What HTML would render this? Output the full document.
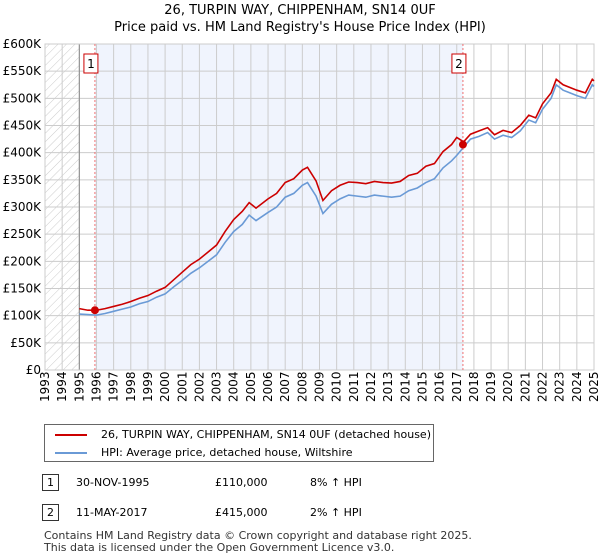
<!DOCTYPE html>
<html><head><meta charset="utf-8"><style>
body{margin:0;background:#fff;font-family:"DejaVu Sans","Liberation Sans",sans-serif;}
#wrap{position:relative;width:600px;height:560px;overflow:hidden}
.t{position:absolute;font-size:12px;color:#000}
</style></head><body><div id="wrap">
<div class="t" style="left:0;width:600px;text-align:center;top:2px;font-size:13px;line-height:17px">26, TURPIN WAY, CHIPPENHAM, SN14 0UF<br>Price paid vs. HM Land Registry's House Price Index (HPI)</div>
<svg id="chart" width="600" height="420" style="position:absolute;left:0;top:0"></svg>
<div style="position:absolute;left:44px;top:424px;width:390px;height:38px;border:1px solid #666;box-sizing:border-box;font-size:11px">
<div style="position:absolute;left:10px;top:9px;width:32px;height:2px;background:#cc0000"></div><div style="position:absolute;left:56px;top:3px">26, TURPIN WAY, CHIPPENHAM, SN14 0UF (detached house)</div>
<div style="position:absolute;left:10px;top:27px;width:32px;height:2px;background:#6a9ad6"></div><div style="position:absolute;left:56px;top:21px">HPI: Average price, detached house, Wiltshire</div>
</div>
<div style="position:absolute;top:474px;left:0;width:600px;font-size:11px">
<div style="position:absolute;left:42px;top:0;width:17px;height:17px;border:1px solid #333;box-sizing:border-box;text-align:center;line-height:16px">1</div>
<div style="position:absolute;left:76px;top:2px">30-NOV-1995</div><div style="position:absolute;left:215px;top:2px">£110,000</div><div style="position:absolute;left:310px;top:2px">8% ↑ HPI</div></div>
<div style="position:absolute;top:504px;left:0;width:600px;font-size:11px">
<div style="position:absolute;left:42px;top:0;width:17px;height:17px;border:1px solid #333;box-sizing:border-box;text-align:center;line-height:16px">2</div>
<div style="position:absolute;left:76px;top:2px">11-MAY-2017</div><div style="position:absolute;left:215px;top:2px">£415,000</div><div style="position:absolute;left:310px;top:2px">2% ↑ HPI</div></div>
<div class="t" style="left:44px;top:530px;font-size:11px;line-height:12px;color:#333">Contains HM Land Registry data © Crown copyright and database right 2025.<br>This data is licensed under the Open Government Licence v3.0.</div>
</div>
<script>
const hpiT=[1995,1995.5,1996,1996.5,1997,1997.5,1998,1998.5,1999,1999.5,2000,2000.5,2001,2001.5,2002,2002.5,2003,2003.5,2004,2004.5,2004.9,2005.3,2006,2006.5,2007,2007.5,2008,2008.3,2008.8,2009.2,2009.7,2010.2,2010.7,2011.2,2011.7,2012.2,2012.7,2013.2,2013.7,2014.2,2014.7,2015.2,2015.7,2016.2,2016.7,2017,2017.4,2017.8,2018.3,2018.8,2019.2,2019.7,2020.2,2020.7,2021.2,2021.6,2022,2022.5,2022.8,2023.2,2023.6,2024,2024.5,2024.9,2025];
const hpiV=[103,102,101,104,108,112,116,122,126,134,140,153,165,178,188,200,212,235,255,268,285,275,290,300,318,325,340,345,320,288,305,315,322,320,318,322,320,318,320,330,335,345,352,372,385,395,410,425,430,437,425,432,428,440,460,455,480,500,525,515,510,505,500,525,522];
const redV=[113,110,110,113,117,121,126,132,137,145,152,166,180,194,204,217,230,255,277,292,308,298,315,325,345,352,368,373,348,312,330,340,346,345,343,347,345,344,347,358,362,375,380,402,415,428,420,434,440,446,433,441,437,450,469,464,490,510,535,525,520,515,510,535,532];
const yTicks=[0,50,100,150,200,250,300,350,400,450,500,550,600];
const yLabels=["£0","£50K","£100K","£150K","£200K","£250K","£300K","£350K","£400K","£450K","£500K","£550K","£600K"];
const years=[];for(let y=1993;y<=2025;y++)years.push(y);
const sales=[{t:1995.91,v:110,n:"1"},{t:2017.36,v:415,n:"2"}];
const X0=45,X1=594,Y0=370,Y1=44;
const FF='DejaVu Sans, Liberation Sans, sans-serif';
const x=t=>X0+(t-1993)*(X1-X0)/32, y=v=>Y0-v*(Y0-Y1)/600;
const svg=document.getElementById('chart');const NS="http://www.w3.org/2000/svg";
function el(tag,a,p){const e=document.createElementNS(NS,tag);for(const k in a)e.setAttribute(k,a[k]);(p||svg).appendChild(e);return e;}
const defs=el('defs',{});const pat=el('pattern',{id:'h',width:6,height:6,patternUnits:'userSpaceOnUse',patternTransform:'rotate(45)'},defs);el('line',{x1:0,y1:0,x2:0,y2:6,stroke:'#ccc','stroke-width':1},pat);
let r=el('rect',{x:X0,y:Y1,width:x(1995)-X0,height:Y0-Y1,fill:'url(#h)'});
r=el('rect',{x:x(sales[0].t),y:Y1,width:x(sales[1].t)-x(sales[0].t),height:Y0-Y1,fill:'#f0f4fd'});
years.forEach(yr=>{el('line',{x1:x(yr),x2:x(yr),y1:Y1,y2:Y0,stroke:'#ccc'});
 const tx=el('text',{x:0,y:0,transform:`translate(${x(yr)+4},${Y0+32}) rotate(-90)`,'font-size':12,'font-family':FF});tx.textContent=yr;});
yTicks.forEach((v,i)=>{el('line',{x1:X0,x2:X1,y1:y(v),y2:y(v),stroke:'#ccc'});
 const tx=el('text',{x:X0-4,y:y(v)+4,'text-anchor':'end','font-size':12,'font-family':FF});tx.textContent=yLabels[i];});
el('line',{x1:x(1995),x2:x(1995),y1:Y1,y2:Y0,stroke:'#888'});
el('rect',{x:X0,y:Y1,width:X1-X0,height:Y0-Y1,fill:'none',stroke:'#ccc'});
const pts=(V)=>hpiT.map((t,i)=>x(t)+','+y(V[i])).join(' ');
let p=el('polyline',{points:pts(hpiV),fill:'none',stroke:'#6a9ad6','stroke-width':1.6});
p=el('polyline',{points:pts(redV),fill:'none',stroke:'#cc0000','stroke-width':1.6});
sales.forEach(s=>{el('line',{x1:x(s.t),x2:x(s.t),y1:Y1,y2:Y0,stroke:'#f07070','stroke-dasharray':'2,2'});
 const c=el('circle',{cx:x(s.t),cy:y(s.v),r:4,fill:'#cc0000'});
 el('rect',{x:x(s.t)-11,y:54,width:14,height:19,fill:'#fff',stroke:'#cc0000'});
 const tx=el('text',{x:x(s.t)-4,y:68,'text-anchor':'middle','font-size':12,'font-family':FF});tx.textContent=s.n;});
</script></body></html>
